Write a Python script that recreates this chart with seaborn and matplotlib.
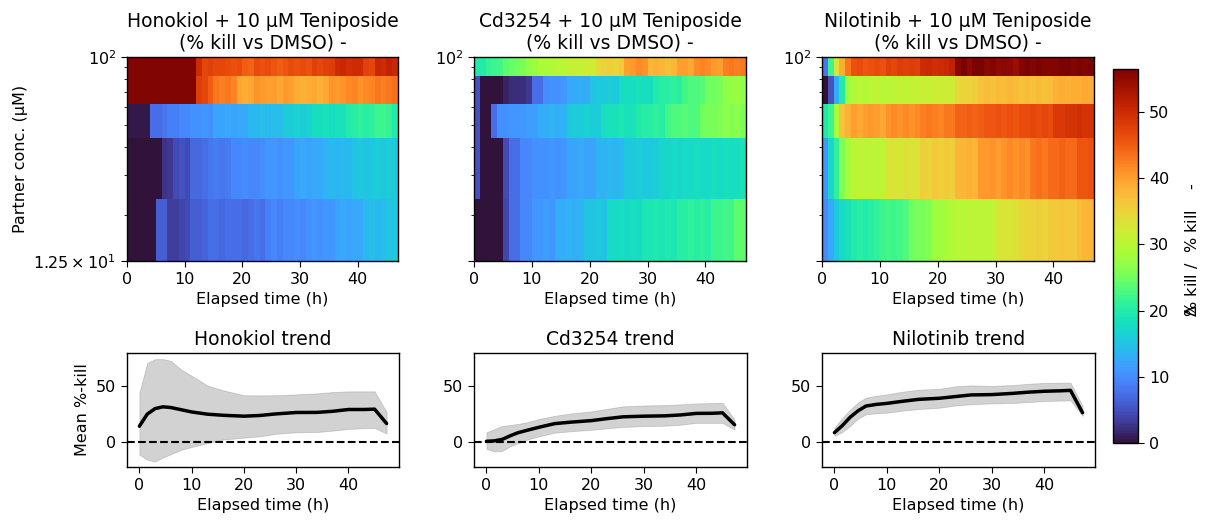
import numpy as np
import matplotlib
matplotlib.use("Agg")
import matplotlib.pyplot as plt
import seaborn as sns
from matplotlib.ticker import FixedLocator, FixedFormatter, NullFormatter

# ---------------- data ----------------
drugs = ["Honokiol", "Cd3254", "Nilotinib"]
partner_dose = "10 µM Teniposide"
conc_edges_uM = [12.5, 23.5, 44, 62, 82, 100]      # row boundaries (log axis)
time_edges_h = list(range(0, 48))                  # hourly columns 0..47 h

# % kill, rows from low to high concentration, 47 hourly columns each
honokiol_r1 = [0, 0, 0, 0, 0, 6, 6, 3.5, 3.5, 4, 4.5, 6, 6, 6.5, 7.5, 7.5, 7, 7.5, 7.5, 7.5, 7, 7.5, 8, 7.5,
               9, 9.5, 9, 9.5, 9.5, 10, 9.5, 10.5, 11, 10.5, 11, 11, 12, 12.5, 12, 12.5, 12.5, 14, 14.5, 14, 14.5, 15, 15.5]
honokiol_r2 = [0, 0, 0, 0, 0, 0, 2.5, 3, 4.5, 5, 4.5, 7, 7, 7.5, 8, 8.5, 8, 8.5, 9.5, 9.5, 10, 9.5, 9.5, 10,
               10.8, 11, 10.5, 11, 11, 12, 12.5, 12, 12.5, 12.5, 13.5, 14, 13.5, 14, 14, 15, 15.5, 15, 15.5, 16, 15.5, 16, 15.5]
honokiol_r3 = [0.5, 0.5, 0.5, 0.5, 7.5, 7.5, 8, 9, 9, 9.5, 9.5, 10.5, 10.5, 11, 10.5, 12, 12, 12.5, 12, 12.5, 12.5,
               14, 14, 14.5, 14, 14.5, 14.5, 16, 16, 16.5, 16, 16.5, 18, 18, 18.5, 18, 18.5, 18.5, 20, 20.5, 21, 20.5, 21,
               22, 22, 21.5, 20]
honokiol_r4 = [56, 56, 56, 56, 56, 56, 56, 56, 56, 56, 56, 56, 48, 47, 45, 43, 42.5, 43, 42, 39.5, 39, 39.5, 41, 40.5,
               40, 40, 39.5, 40.5, 40, 39, 38.5, 39, 39.5, 38.5, 39.5, 41, 40.5, 41, 41.5, 42, 41, 41.5, 42, 43, 42.5, 43, 43.5]
honokiol_r5 = [56, 56, 56, 56, 56, 56, 56, 56, 56, 56, 56, 56, 50, 47, 47.5, 47, 47, 46.5, 46, 46.5, 45, 44.5, 46.5, 46,
               46.5, 45.5, 45, 45.5, 46.5, 46, 46.5, 46, 47.5, 47, 47.5, 48, 50, 50.5, 49.5, 50, 50, 47.5, 47, 50.5, 50, 51, 50.5]

cd3254_r1 = [0, 0, 0, 0, 0, 4, 7.5, 7.5, 9.5, 9.5, 11, 11, 11.5, 11, 13, 13, 13.5, 13, 13.5, 15, 15, 15.5, 15,
             17.5, 17.5, 18, 17.5, 18, 17.5, 19, 19, 19.5, 19, 19.5, 19, 20.5, 20.5, 21, 20.5, 21, 20.5, 22, 22, 22.5, 22, 24, 24]
cd3254_r2 = [5, 0, 0, 0, 0, 4.5, 7.5, 7.5, 9.5, 9.5, 10.5, 10.5, 10.5, 11, 10.5, 11, 12, 12, 12.5, 12, 12, 13.5, 13.5, 14,
             13.5, 14, 15.5, 15.5, 16, 15.5, 15.5, 16, 17, 17, 17.5, 17, 17.5, 17.5, 18, 17.5, 17.5, 18, 17.5, 18, 18, 18, 18.5]
cd3254_r3 = [5, 0, 0, 7.5, 10.5, 10.5, 11, 11, 11, 11.5, 11.5, 13, 13, 13.5, 13, 13.5, 15.5, 16, 16, 16.5, 16, 16,
             18, 18.5, 18.5, 19, 18.5, 18.5, 20, 20.5, 20.5, 21, 20.5, 22.5, 23, 23, 23.5, 23, 23, 25, 25.5, 25.5,
             26, 26.5, 26, 26.5, 26]
cd3254_r4 = [5, 0, 0, 0, 0, 1.5, 2, 2, 2, 3, 7.5, 7.5, 10, 10.5, 10.5, 11, 12.5, 12.8, 13, 12.8, 15, 15.5, 15.5, 16, 15.5,
             17.5, 18, 18, 18.5, 18, 18, 20, 20.5, 20.5, 21, 20.5, 22.5, 23, 23, 23.5, 25, 25, 25.5, 27, 27, 27.5, 27]
cd3254_r5 = [20, 20, 21.5, 22, 22.5, 24, 24.5, 25, 25.5, 27, 27.5, 29, 29, 29.5, 30, 30, 31, 31.5, 31, 32, 32,
             34.5, 35, 35.5, 35, 36, 40, 40.5, 41.5, 41, 38, 38.5, 38, 37.5, 38, 40, 40, 39.5, 41.5, 42, 41.5, 40.5, 40,
             42.5, 43, 42.5, 43]

nilotinib_r1 = [10, 12.5, 15.5, 17.5, 18.5, 20, 20.5, 20, 20.5, 21, 22, 22.5, 22, 22.5, 23, 25, 25.5, 25.5, 26, 28, 28, 28.5,
                29.5, 30, 30, 30.5, 30, 30.5, 30, 30.5, 32.5, 33, 33, 33.5, 34.5, 35, 35, 35.5, 35, 36, 36, 36.5, 36, 36,
                37.5, 38, 38]
nilotinib_r2 = [11, 17, 21, 26, 28.5, 30, 30.5, 30, 30.5, 30, 30.5, 33, 33, 32.5, 33.5, 33, 33, 35.5, 35, 36, 35.5, 36, 35.5,
                38, 38, 38.5, 38, 40.5, 40.5, 41, 40, 41, 41.5, 41, 41.5, 41, 43, 43.5, 43, 44, 44, 44.5, 44, 44, 45.5, 45.5, 46]
nilotinib_r3 = [20, 22, 29, 37, 38.5, 40, 39.5, 40, 40.5, 40, 39.5, 41, 41.5, 41, 41.5, 41, 41.5, 42.5, 43, 42.5, 42, 43, 43,
                44.5, 44.5, 45, 44.5, 45, 45.5, 45.5, 46, 45.5, 46, 45.5, 46.5, 46.5, 47, 46.5, 47, 46.5, 48.5, 48.5, 49,
                49, 49.5, 49, 49]
nilotinib_r4 = [0, 5, 13, 20, 28, 29.5, 30, 29.5, 30, 30.5, 30, 30, 30.5, 31, 30.5, 31, 31, 31.5, 31, 32, 31.5, 32, 32,
                34.5, 35, 35, 35.5, 37, 37.5, 37, 37.5, 37.5, 38, 37.5, 37, 37.5, 37, 37.5, 37, 37.5, 38.5, 39, 38.5,
                39, 39, 39.5, 39]
nilotinib_r5 = [8, 22, 33, 39, 43, 46, 46.5, 45.5, 46, 46.5, 46, 47.5, 47, 48, 47.5, 48, 47.5, 50, 50.5, 49.5, 50, 50.5, 51,
                55.5, 56.5, 55, 56.5, 56.5, 55.5, 56, 55, 55.5, 55, 54.5, 56, 56.5, 56, 56.5, 56, 56, 56, 56.5, 56.5, 56,
                56.5, 56, 56.5]

# trend: mean %-kill with its band
trend_t = [0, 1.5, 3, 4.5, 6, 8, 10, 13, 16, 20, 23, 26, 30, 34, 37, 40, 43, 45, 47.3]
honokiol_mean = [14.2, 25, 30, 31.6, 31, 29, 27, 25, 24, 23.2, 23.8, 25.2, 26.5, 26.6, 27.6, 29.2, 29.2, 29.5, 16.6]
honokiol_hi = [44.3, 71, 74.5, 74.5, 73, 65, 59.5, 50.8, 46.5, 42, 41.9, 42, 42.8, 43.7, 44.9, 45.5, 45.5, 45.5, 26.8]
honokiol_lo = [-11.4, -16, -17.5, -14, -11, -7, -4.5, -1, 2.2, 3.9, 5.1, 7.3, 8.7, 9, 10.2, 11.7, 12.4, 12.7, 7.5]
cd3254_mean = [0.6, 1.0, 2.3, 5.5, 8.3, 10.8, 13.2, 16.5, 17.8, 19.2, 21, 22.6, 23.2, 23.5, 24.3, 25.7, 25.8, 26.2, 15.5]
cd3254_hi = [8.7, 11.5, 14.5, 15.2, 16.2, 18, 20.6, 23.5, 25.6, 27.5, 29.8, 32, 32.8, 33.2, 33.8, 34.6, 35, 35.2, 20.2]
cd3254_lo = [-6.3, -8.5, -8, -4, -1, 2.5, 5, 8.4, 9.6, 11, 12.3, 13.5, 14.3, 14.6, 15.5, 17.2, 17.2, 17.2, 11.1]
nilotinib_mean = [8.4, 14.7, 22.3, 28, 32.3, 33.8, 34.7, 36.6, 38.3, 39.3, 40.8, 42.3, 42.6, 43.7, 44.8, 45.6, 46, 46.4, 26.3]
nilotinib_hi = [12.9, 21.5, 29, 35.5, 39.8, 41.5, 42.8, 45.2, 47, 47.8, 50, 50.9, 50.4, 51.2, 52.3, 53.1, 53.3, 53.3, 32.3]
nilotinib_lo = [5.4, 9, 14.5, 21, 24.9, 25.8, 26.3, 28.2, 29.6, 30.8, 32.8, 33.9, 34.7, 35.1, 35.9, 36.8, 37.2, 37.4, 23.4]

color_max = 56.5
cbar_ticks = [0, 10, 20, 30, 40, 50]
x_ticks = [0, 10, 20, 30, 40]
cbar_label = r"$\Delta\!\!\!\!$% kill /  % kill    -"

# ---------------- style ----------------
sns.set_style("ticks")
plt.rcParams.update({
    "font.family": ["DejaVu Sans"],
    "font.size": 11.5,
    "axes.titlesize": 13.5,
    "axes.labelsize": 11.5,
    "xtick.labelsize": 11.5,
    "ytick.labelsize": 11.5,
    "axes.edgecolor": "black",
    "xtick.color": "black",
    "ytick.color": "black",
    "text.color": "black",
    "axes.labelcolor": "black",
    "axes.linewidth": 1.0,
    "xtick.major.size": 4.3,
    "ytick.major.size": 4.3,
    "ytick.minor.size": 2.3,
})

W, H = 1208, 523
fig = plt.figure(figsize=(W / 100, H / 100), dpi=100)


def box(x0, y0, x1, y1):
    return [x0 / W, 1 - y1 / H, (x1 - x0) / W, (y1 - y0) / H]


heat_x = [(127, 398), (474, 746), (822, 1094)]
heat_data = [
    [honokiol_r1, honokiol_r2, honokiol_r3, honokiol_r4, honokiol_r5],
    [cd3254_r1, cd3254_r2, cd3254_r3, cd3254_r4, cd3254_r5],
    [nilotinib_r1, nilotinib_r2, nilotinib_r3, nilotinib_r4, nilotinib_r5],
]
trend_data = [
    (honokiol_mean, honokiol_lo, honokiol_hi),
    (cd3254_mean, cd3254_lo, cd3254_hi),
    (nilotinib_mean, nilotinib_lo, nilotinib_hi),
]

mesh = None
for i, drug in enumerate(drugs):
    x0, x1 = heat_x[i]
    ax = fig.add_axes(box(x0, 57, x1, 261))
    Z = np.array(heat_data[i], dtype=float)
    mesh = ax.pcolormesh(time_edges_h, conc_edges_uM, Z, cmap="turbo",
                         vmin=0, vmax=color_max, shading="flat")
    ax.set_yscale("log")
    ax.set_ylim(conc_edges_uM[0], conc_edges_uM[-1])
    ax.set_xlim(time_edges_h[0], time_edges_h[-1])
    ax.yaxis.set_major_locator(FixedLocator([12.5, 100]))
    if i == 0:
        ax.yaxis.set_major_formatter(FixedFormatter([r"$1.25\times10^{1}$", r"$10^{2}$"]))
        ax.set_ylabel("Partner conc. (µM)")
    else:
        ax.yaxis.set_major_formatter(FixedFormatter(["", r"$10^{2}$"]))
    ax.yaxis.set_minor_locator(FixedLocator([20, 30, 40, 50, 60, 70, 80, 90]))
    ax.yaxis.set_minor_formatter(NullFormatter())
    ax.set_xticks(x_ticks)
    ax.set_xlabel("Elapsed time (h)")
    ax.set_title(f"{drug} + {partner_dose}\n(% kill vs DMSO) -")

    # trend panel
    ax2 = fig.add_axes(box(x0, 353, x1 + 1, 467))
    mean, lo, hi = trend_data[i]
    ax2.fill_between(trend_t, lo, hi, color="0.5", alpha=0.35, linewidth=0.6)
    sns.lineplot(x=trend_t, y=mean, ax=ax2, color="black", linewidth=2.5)
    ax2.axhline(0, color="black", linestyle="--", linewidth=1.5)
    ax2.set_ylim(-22.5, 80)
    ax2.set_xlim(-2.37, 49.67)
    ax2.set_xticks(x_ticks)
    ax2.set_yticks([0, 50])
    ax2.set_xlabel("Elapsed time (h)")
    ax2.set_ylabel("Mean %-kill" if i == 0 else "")
    ax2.set_title(f"{drug} trend")

cax = fig.add_axes(box(1113, 69, 1138, 443))
cb = fig.colorbar(mesh, cax=cax)
cb.set_ticks(cbar_ticks)
cb.outline.set_linewidth(1.0)

fig.text(1191 / W, 1 - 250 / H, cbar_label, rotation=90,
         ha="center", va="center", fontsize=11.5)

fig.savefig("out.png", dpi=100)
